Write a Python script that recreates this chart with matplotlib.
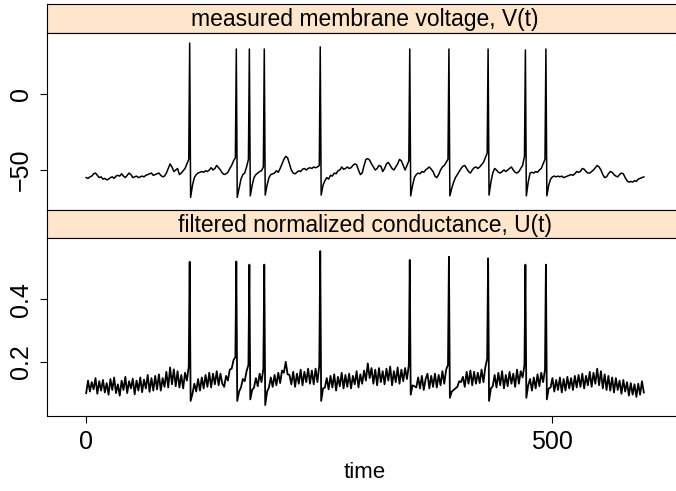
import matplotlib
matplotlib.use('Agg')
import matplotlib.pyplot as plt
import numpy as np

plt.rcParams['font.family'] = ['Liberation Sans', 'DejaVu Sans']

strip_labels = ['measured membrane voltage, V(t)',
                'filtered normalized conductance, U(t)']

# sampling grid for the traces (every 2 time units)
t_grid = np.arange(0, 600, 2)

# V(t) between spikes, one row = 20 time units
v_grid = [
    -55, -55.5, -54.5, -54, -52.5, -52, -53.5, -55, -54.5, -56,        # 0
    -55.5, -56.5, -56, -55, -54.5, -55.5, -54, -53.5, -54, -52.5,      # 20
    -54, -55, -53.5, -52, -53, -55, -54.5, -54, -55, -54.5,            # 40
    -54, -54.5, -53.5, -53, -52.5, -52, -53.5, -53, -52.5, -52,        # 60
    -53.5, -54.5, -54, -52, -49, -46, -48, -51, -50, -49,              # 80
    -53, -52, -50.5, -49, -46, -43, -68, -60, -55, -53,                # 100
    -52, -51.5, -51, -51.5, -50.5, -51, -50, -48.5, -50, -49,          # 120
    -47, -48.5, -50, -52, -53, -52.5, -51.5, -49, -47, -44,            # 140
    -42, -68, -62, -56, -53, -52, -48, -43, -67, -60,                  # 160
    -55, -53, -52, -51, -50.5, -48, -66.5, -60, -55, -53,              # 180
    -52.5, -52, -50.5, -51.5, -49, -46, -43, -41, -42, -46,            # 200
    -50, -52, -52.5, -51.5, -50.5, -51, -49.5, -49, -50, -49,          # 220
    -48.5, -49, -48, -48.5, -48, -47, -66.5, -60, -57, -55,            # 240
    -56, -53.5, -54, -52, -52.5, -50.5, -50, -48, -49.5, -49,          # 260
    -48, -49, -48.5, -47, -46, -46.5, -50, -53, -52, -47,              # 280
    -43, -42.5, -43.5, -46, -48, -50, -49, -47, -47.5, -51,            # 300
    -49, -46, -45, -47, -49, -50, -48, -46, -43, -44,                  # 320
    -47, -50, -47, -44, -67, -60, -55, -53, -52, -52.5,                # 340
    -51, -51.5, -50, -49, -48, -49.5, -51, -54, -55, -53,              # 360
    -50, -48, -47, -45, -43, -67, -62, -58, -55, -53,                  # 380
    -51, -49, -47.5, -47, -49, -51, -52, -50, -48.5, -48,              # 400
    -49, -48, -46.5, -45, -42, -39, -66.5, -58, -52, -49,              # 420
    -50, -51.5, -52, -51, -50, -51, -50, -49, -48, -50,                # 440
    -51.5, -52, -51, -49, -47, -41, -67, -58, -52, -51.5,              # 460
    -52, -51, -51.5, -50, -49, -46, -43, -67, -60, -56,                # 480
    -54.5, -54, -54.5, -54, -54.5, -54, -55, -54.5, -54, -53.5,        # 500
    -53, -53.5, -52.5, -51, -51.5, -51, -49, -49.5, -51, -52,          # 520
    -52, -51, -50, -48.5, -47, -48, -50, -53, -55, -54.5,              # 540
    -52.5, -51, -51.5, -53, -54, -54.5, -53, -52, -52.5, -55,          # 560
    -57, -58, -57.5, -58, -57, -57.5, -56, -55.5, -55, -54.5,          # 580
]

# U(t) between spikes
u_grid = [
    0.1, 0.14, 0.105, 0.135, 0.112, 0.148, 0.098, 0.138, 0.108, 0.142,      # 0
    0.102, 0.132, 0.095, 0.145, 0.11, 0.15, 0.1, 0.128, 0.092, 0.14,        # 20
    0.11, 0.152, 0.1, 0.138, 0.115, 0.146, 0.096, 0.14, 0.108, 0.15,        # 40
    0.103, 0.143, 0.115, 0.158, 0.104, 0.148, 0.108, 0.155, 0.112, 0.16,    # 60
    0.108, 0.148, 0.12, 0.168, 0.118, 0.182, 0.128, 0.176, 0.122, 0.17,     # 80
    0.118, 0.158, 0.115, 0.165, 0.14, 0.185, 0.075, 0.098, 0.13, 0.105,     # 100
    0.145, 0.108, 0.15, 0.115, 0.158, 0.12, 0.165, 0.118, 0.162, 0.128,     # 120
    0.17, 0.125, 0.162, 0.13, 0.12, 0.155, 0.14, 0.175, 0.178, 0.205,       # 140
    0.215, 0.075, 0.105, 0.118, 0.145, 0.138, 0.17, 0.19, 0.08, 0.11,       # 160
    0.118, 0.148, 0.122, 0.162, 0.135, 0.178, 0.062, 0.105, 0.118, 0.15,    # 180
    0.12, 0.158, 0.125, 0.165, 0.132, 0.172, 0.165, 0.2, 0.16, 0.158,       # 200
    0.128, 0.168, 0.12, 0.162, 0.13, 0.175, 0.125, 0.168, 0.135, 0.178,     # 220
    0.13, 0.172, 0.128, 0.178, 0.135, 0.19, 0.075, 0.115, 0.118, 0.148,     # 240
    0.112, 0.155, 0.118, 0.16, 0.108, 0.152, 0.122, 0.165, 0.115, 0.158,    # 260
    0.12, 0.162, 0.115, 0.155, 0.128, 0.17, 0.118, 0.16, 0.13, 0.172,       # 280
    0.14, 0.195, 0.148, 0.18, 0.13, 0.175, 0.125, 0.18, 0.135, 0.17,        # 300
    0.128, 0.178, 0.14, 0.185, 0.125, 0.17, 0.135, 0.182, 0.13, 0.175,      # 320
    0.138, 0.18, 0.145, 0.19, 0.095, 0.125, 0.122, 0.118, 0.15, 0.115,      # 340
    0.155, 0.11, 0.145, 0.162, 0.115, 0.155, 0.12, 0.162, 0.118, 0.158,     # 360
    0.125, 0.17, 0.13, 0.175, 0.19, 0.085, 0.105, 0.11, 0.115, 0.12,        # 380
    0.138, 0.135, 0.152, 0.12, 0.168, 0.13, 0.172, 0.125, 0.168, 0.13,      # 400
    0.165, 0.132, 0.175, 0.135, 0.182, 0.21, 0.075, 0.115, 0.122, 0.158,    # 420
    0.118, 0.165, 0.125, 0.17, 0.115, 0.158, 0.122, 0.168, 0.13, 0.162,     # 440
    0.12, 0.175, 0.13, 0.17, 0.15, 0.19, 0.085, 0.125, 0.145, 0.108,        # 460
    0.15, 0.115, 0.16, 0.122, 0.165, 0.135, 0.175, 0.08, 0.115, 0.118,      # 480
    0.148, 0.105, 0.142, 0.11, 0.15, 0.102, 0.145, 0.108, 0.152, 0.115,     # 500
    0.148, 0.11, 0.155, 0.118, 0.158, 0.12, 0.162, 0.115, 0.155, 0.125,     # 520
    0.168, 0.12, 0.165, 0.13, 0.178, 0.125, 0.17, 0.115, 0.16, 0.11,        # 540
    0.155, 0.108, 0.15, 0.102, 0.148, 0.11, 0.14, 0.098, 0.142, 0.105,      # 560
    0.135, 0.092, 0.132, 0.095, 0.128, 0.088, 0.13, 0.095, 0.138, 0.102,    # 580
]

# spike times and peak values
spike_t = [111, 161, 175, 191, 251, 347, 389, 431, 471, 493]
spike_v = [33.5, 29.6, 29.6, 29.6, 31, 29.6, 29.6, 29.6, 29, 29.6]
spike_u = [0.519, 0.52, 0.51, 0.51, 0.553, 0.525, 0.535, 0.53, 0.51, 0.51]

assert len(v_grid) == len(t_grid) and len(u_grid) == len(t_grid)


def merge(grid_vals, peaks):
    t = np.concatenate([t_grid, spike_t])
    y = np.concatenate([grid_vals, peaks])
    order = np.argsort(t, kind='stable')
    return t[order], y[order]


W, H = 676, 491
fig = plt.figure(figsize=(W / 100, H / 100), dpi=100)

left = 47 / W
width = (683 - 47) / W
strip_col = '#ffe5cc'


def px(y0, y1):
    # pixel rows -> [bottom, height] in figure fraction
    return 1 - y1 / H, (y1 - y0) / H


panels = [
    dict(strip=(4, 33), panel=(33, 210)),
    dict(strip=(210, 238), panel=(238, 416)),
]

axes = []
for i, p in enumerate(panels):
    b, h = px(*p['strip'])
    sax = fig.add_axes([left, b, width, h])
    sax.set_facecolor(strip_col)
    sax.set_xticks([])
    sax.set_yticks([])
    for s in sax.spines.values():
        s.set_linewidth(0.8)
    sax.text(0.5, 0.45, strip_labels[i], transform=sax.transAxes,
             ha='center', va='center', fontsize=16.5)
    b, h = px(*p['panel'])
    ax = fig.add_axes([left, b, width, h])
    for s in ax.spines.values():
        s.set_linewidth(0.8)
    ax.set_xlim(-42, 640)
    axes.append(ax)

ax1, ax2 = axes

tv, vv = merge(v_grid, spike_v)
ax1.plot(tv, vv, color='k', lw=1.1)
ax1.set_ylim(-76.3, 40.1)
ax1.set_yticks([-50, 0])
ax1.set_yticklabels(['\u221250', '0'], rotation=90, va='center')
ax1.set_xticks([])

tu, uu = merge(u_grid, spike_u)
ax2.plot(tu, uu, color='k', lw=1.3)
ax2.set_ylim(0.027, 0.595)
ax2.set_yticks([0.2, 0.4])
ax2.set_yticklabels(['0.2', '0.4'], rotation=90, va='center')
ax2.set_xticks([0, 500])
ax2.set_xlabel('time', fontsize=16, labelpad=6)

for ax in axes:
    ax.tick_params(axis='both', direction='out', length=5, width=0.8,
                   labelsize=18, pad=5)
    ax.tick_params(axis='y', right=False)

fig.savefig('out.png', dpi=100)
